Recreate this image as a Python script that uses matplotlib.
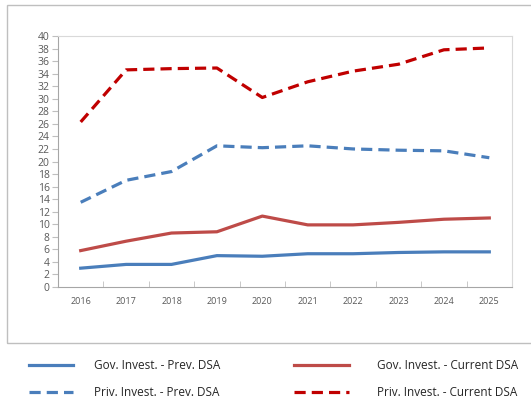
import matplotlib.pyplot as plt
from matplotlib.patches import Rectangle
from matplotlib.ticker import FixedLocator

years = ['2016', '2017', '2018', '2019', '2020', '2021', '2022', '2023', '2024', '2025']
gov_prev = [3.0, 3.6, 3.6, 5.0, 4.9, 5.3, 5.3, 5.5, 5.6, 5.6]
gov_curr = [5.8, 7.3, 8.6, 8.8, 11.3, 9.9, 9.9, 10.3, 10.8, 11.0]
priv_prev = [13.5, 17.0, 18.4, 22.5, 22.2, 22.5, 22.0, 21.8, 21.7, 20.6]
priv_curr = [26.3, 34.6, 34.8, 34.9, 30.2, 32.7, 34.4, 35.5, 37.8, 38.1]

plt.rcParams['font.family'] = ['Open Sans', 'DejaVu Sans']

fig = plt.figure(figsize=(5.31, 4.03), dpi=100)
# outer chart frame
fig.patches.append(Rectangle((7 / 531, 1 - 343 / 403), 0.99, 338 / 403,
                             transform=fig.transFigure, fill=False,
                             edgecolor='#bfbfbf', linewidth=1))
ax = fig.add_axes([58 / 531, 1 - 287 / 403, 454 / 531, 251 / 403])

x = list(range(len(years)))
dash = (0, (3.5, 1.9))
l1, = ax.plot(x, gov_prev, color='#4a7ebb', lw=2.3, label='Gov. Invest. - Prev. DSA')
l2, = ax.plot(x, gov_curr, color='#be4b48', lw=2.3, label='Gov. Invest. - Current DSA')
l3, = ax.plot(x, priv_prev, color='#4a7ebb', lw=2.3, ls=dash, label='Priv. Invest. - Prev. DSA')
l4, = ax.plot(x, priv_curr, color='#c00000', lw=2.3, ls=dash, label='Priv. Invest. - Current DSA')

ax.set_xlim(-0.5, 9.5)
ax.set_ylim(0, 40)
ax.set_yticks(range(0, 41, 2))
ax.set_xticks(x)
ax.set_xticklabels(years)
ax.xaxis.set_minor_locator(FixedLocator([i + 0.5 for i in range(9)]))
ax.tick_params(axis='x', which='major', length=0, pad=7, labelsize=6.5, colors='#595959')
ax.tick_params(axis='x', which='minor', length=4, color='#bfbfbf', direction='in')
ax.tick_params(axis='y', length=4, color='#bfbfbf', labelsize=7.5, labelcolor='#595959', pad=2)
for s in ax.spines.values():
    s.set_color('#d9d9d9')
ax.spines['left'].set_color('#a6a6a6')
ax.spines['bottom'].set_color('#a6a6a6')

leg_kw = dict(frameon=False, loc='upper left', borderpad=0, borderaxespad=0,
              fontsize=8.5, labelspacing=1.2, labelcolor='#262626')
fig.legend([l1, l3], [l1.get_label(), l3.get_label()], handlelength=3.7, handletextpad=1.8,
           bbox_to_anchor=(29 / 531, 1 - 359 / 403), **leg_kw)
fig.legend([l2, l4], [l2.get_label(), l4.get_label()], handlelength=4.7, handletextpad=2.3,
           bbox_to_anchor=(294 / 531, 1 - 359 / 403), **leg_kw)

fig.savefig('out.png', dpi=100)
